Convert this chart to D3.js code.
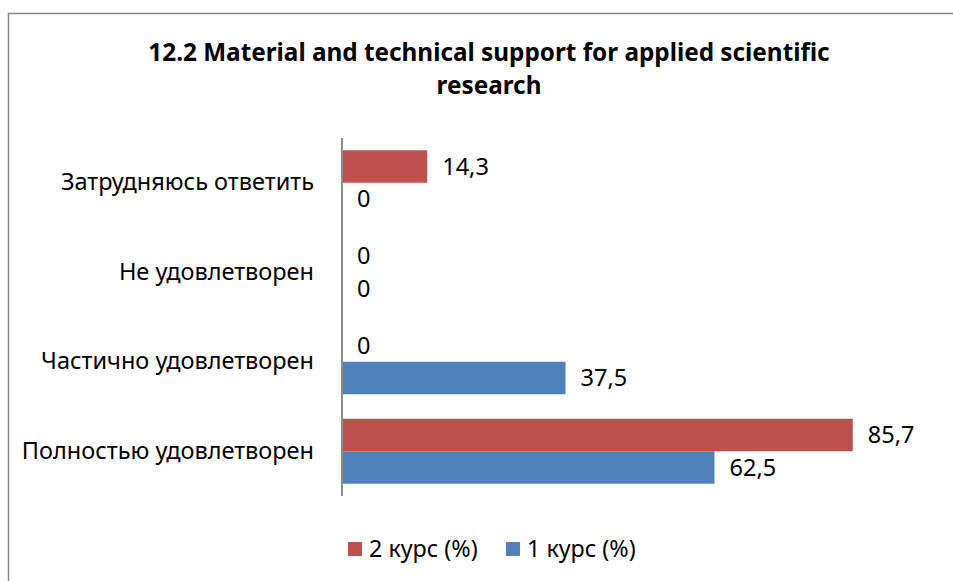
<!DOCTYPE html>
<html>
<head>
<meta charset="utf-8">
<script src="https://cdn.jsdelivr.net/npm/d3@7"></script>
<style>
  body { margin: 0; background: #fff; }
  svg { display: block; font-family: "Noto Sans", sans-serif; }
</style>
</head>
<body>
<div id="chart"></div>
<script>
"use strict";

// data, bottom category first (as in the picture, read from bottom up)
const categories = ["Полностью удовлетворен", "Частично удовлетворен", "Не удовлетворен", "Затрудняюсь ответить"];
const kurs2 = [85.7, 0, 0, 14.3];
const kurs1 = [62.5, 37.5, 0, 0];
const series = [
  {name: "2 курс (%)", values: kurs2, color: "#C0504D"},
  {name: "1 курс (%)", values: kurs1, color: "#4F81BD"}
];
const titleLines = ["12.2 Material and technical support for applied scientific", "research"];

const width = 953, height = 581;

const svg = d3.select("#chart").append("svg")
    .attr("width", width)
    .attr("height", height);

// outer frame
svg.append("rect")
    .attr("x", 8.5).attr("y", 13.5)
    .attr("width", 1000).attr("height", 1000)
    .style("fill", "none")
    .style("stroke", "#878787")
    .style("stroke-width", 1.5);

// title
svg.append("text")
    .attr("text-anchor", "middle")
    .style("font-size", "24.3px")
    .style("font-weight", "bold")
    .style("fill", "#000")
    .selectAll("tspan")
    .data(titleLines)
    .enter().append("tspan")
    .attr("x", 489)
    .attr("y", (d, i) => 61 + i * 33)
    .text(d => d);

const x = d3.scaleLinear()
    .domain([0, 100])
    .range([342, 938]);

const y = d3.scaleBand()
    .domain(categories.slice().reverse())
    .range([138, 496])
    .paddingInner(0.274)
    .paddingOuter(0.137);

const ySub = d3.scaleBand()
    .domain(series.map(s => s.name))
    .range([0, y.bandwidth()]);

const fmt = v => String(v).replace(".", ",");

series.forEach(function(s) {
  const g = svg.append("g");
  g.selectAll("rect")
      .data(categories)
      .enter().append("rect")
      .attr("x", x(0))
      .attr("y", d => y(d) + ySub(s.name))
      .attr("width", (d, i) => x(s.values[i]) - x(0))
      .attr("height", ySub.bandwidth())
      .style("fill", s.color);

  g.selectAll("text")
      .data(categories)
      .enter().append("text")
      .attr("x", (d, i) => x(s.values[i]) + 15)
      .attr("y", d => y(d) + ySub(s.name) + ySub.bandwidth() / 2)
      .attr("dy", "0.35em")
      .style("font-size", "23.5px")
      .style("fill", "#000")
      .text((d, i) => fmt(s.values[i]));
});

// category axis
const yAxis = svg.append("g")
    .attr("transform", `translate(${x(0)},0)`)
    .call(d3.axisLeft(y).tickSize(0).tickPadding(28));
yAxis.select(".domain")
    .attr("d", `M0,138V496`)
    .style("stroke", "#8c8c8c")
    .style("stroke-width", 2);
yAxis.selectAll("text")
    .style("font-family", "Noto Sans, sans-serif")
    .style("font-size", "23.5px")
    .style("fill", "#000");

// legend
const legendX = [348, 506];
const legend = svg.append("g")
    .selectAll("g")
    .data(series)
    .enter().append("g")
    .attr("transform", (d, i) => `translate(${legendX[i]},542)`);
legend.append("rect")
    .attr("width", 14).attr("height", 14)
    .style("fill", d => d.color);
legend.append("text")
    .attr("x", 21)
    .attr("y", 7)
    .attr("dy", "0.35em")
    .style("font-size", "23.3px")
    .style("fill", "#000")
    .text(d => d.name);
</script>
</body>
</html>
